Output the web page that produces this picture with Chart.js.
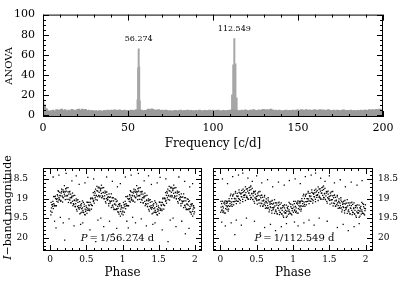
<!DOCTYPE html>
<html>
<head>
<meta charset="utf-8">
<script src="https://cdn.jsdelivr.net/npm/chart.js@4.4.0/dist/chart.umd.min.js"></script>
<style>
  html, body { margin: 0; padding: 0; background: #fff; }
  #wrap { position: relative; width: 399px; height: 288px; }
  canvas { position: absolute; left: 0; top: 0; }
</style>
</head>
<body>
<div id="wrap">
  <canvas id="spec" width="399" height="288"></canvas>
  <canvas id="foldA" width="399" height="288"></canvas>
  <canvas id="foldB" width="399" height="288"></canvas>
</div>
<script>
// ---- periodogram: ANOVA noise, one value per 1 c/d from 0 to 200
const anovaNoise = [
  13, 10, 6.5, 4.5, 4, 4.5, 5, 4, 5.5, 4.8,
  5.2, 5.8, 4.6, 5.5, 4.2, 5, 4.4, 5.6, 4.8, 4.3,
  5.4, 5.8, 5, 6, 5.2, 5.7, 4.5, 5, 4.2, 4.6,
  4, 4.4, 3.8, 4.5, 4.2, 4, 4.6, 4.1, 4.8, 4.4,
  5, 4.6, 5.2, 4.8, 4.3, 5.1, 4.7, 4.5, 5, 4.2,
  4.6, 4.4, 4.8, 4.3, 4.9, 5.2, 4.8, 4.6, 4.8, 4.5,
  4.6, 5, 5.8, 5.2, 6.2, 5.4, 5, 4.8, 5.5, 4.6,
  4.8, 4.4, 5, 4.6, 4.2, 4.5, 4, 4.3, 4.7, 4.1,
  4.5, 4.8, 4.2, 4.6, 4.4, 4.9, 4.3, 4.7, 4.5, 4.2,
  4.6, 4.1, 4.8, 4.4, 4.2, 4.7, 4.3, 4.5, 4.9, 4.4,
  4.8, 4.3, 4.6, 5, 4.4, 4.2, 4.7, 4.5, 4.3, 4.6,
  4.8, 5, 5.2, 5, 4.8, 4.5, 4.3, 4.9, 4.4, 5.2,
  4.6, 4.3, 4.8, 5, 5.4, 4.7, 4.4, 5.1, 4.6, 5.3,
  5.6, 5, 5.4, 4.8, 5.8, 5.2, 4.6, 5, 4.4, 4.8,
  4.5, 4.2, 4.6, 4.9, 4.3, 4.7, 4.4, 4.8, 4.5, 4.9,
  5.2, 4.6, 5.4, 5, 4.8, 5.5, 4.7, 5.1, 4.6, 5,
  5.3, 4.7, 5, 5.5, 4.8, 5.2, 4.6, 4.9, 5.4, 4.7,
  4.5, 4.9, 4.3, 5, 4.6, 4.4, 4.8, 5.1, 4.5, 4.7,
  4.4, 4.8, 4.3, 4.6, 4.2, 4.7, 4.5, 4.9, 4.4, 4.8,
  5, 4.6, 5.3, 4.8, 5.5, 5, 5.6, 5.2, 5.8, 5.4,
  5
];
const peakFreq  = [55.6, 55.95, 56.274, 56.6, 56.95, 111.2, 111.9, 112.549, 113.2, 113.9];
const peakAnova = [15, 47, 66, 48, 14, 20, 50, 76, 51, 17];
const peakLabels = ['56.274', '112.549'];
const peakLabelY = [75.5, 85.5];
const freqTicks  = [0, 50, 100, 150, 200];
const anovaTicks = [0, 20, 40, 60, 80, 100];

// ---- phases of the measurements (same epochs in both foldings)
const phaseGrid = [
  0.005, 0.012, 0.018, 0.024, 0.031, 0.037, 0.043, 0.049, 0.056, 0.062, 0.068, 0.074, 0.081, 0.087, 0.093, 0.098,
  0.104, 0.109, 0.115, 0.121, 0.127, 0.133, 0.139, 0.146, 0.152, 0.158, 0.164, 0.171, 0.177, 0.183, 0.189, 0.196,
  0.202, 0.208, 0.214, 0.221, 0.227, 0.233, 0.239, 0.246, 0.252, 0.258, 0.264, 0.271, 0.277, 0.283, 0.289, 0.296,
  0.302, 0.308, 0.314, 0.321, 0.327, 0.333, 0.339, 0.346, 0.352, 0.358, 0.364, 0.371, 0.377, 0.383, 0.389, 0.396,
  0.402, 0.408, 0.414, 0.421, 0.427, 0.433, 0.439, 0.446, 0.452, 0.458, 0.464, 0.471, 0.477, 0.483, 0.489, 0.496,
  0.502, 0.508, 0.514, 0.521, 0.527, 0.533, 0.539, 0.546, 0.552, 0.558, 0.564, 0.571, 0.577, 0.583, 0.589, 0.596,
  0.602, 0.608, 0.614, 0.621, 0.627, 0.633, 0.639, 0.646, 0.652, 0.658, 0.664, 0.671, 0.677, 0.683, 0.689, 0.696,
  0.702, 0.708, 0.714, 0.721, 0.727, 0.733, 0.739, 0.746, 0.752, 0.758, 0.764, 0.771, 0.777, 0.783, 0.789, 0.796,
  0.802, 0.808, 0.814, 0.821, 0.827, 0.833, 0.839, 0.846, 0.852, 0.858, 0.864, 0.871, 0.877, 0.883, 0.889, 0.896,
  0.902, 0.908, 0.914, 0.921, 0.927, 0.933, 0.939, 0.946, 0.952, 0.958, 0.964, 0.971, 0.977, 0.983, 0.989, 0.996,
  0.009, 0.021, 0.034, 0.046, 0.059, 0.071, 0.084, 0.096,
  0.109, 0.121, 0.134, 0.146, 0.159, 0.171, 0.184, 0.196,
  0.209, 0.221, 0.234, 0.246, 0.259, 0.271, 0.284, 0.296,
  0.309, 0.321, 0.334, 0.346, 0.359, 0.371, 0.384, 0.396,
  0.409, 0.421, 0.434, 0.446, 0.459, 0.471, 0.484, 0.496,
  0.509, 0.521, 0.534, 0.546, 0.559, 0.571, 0.584, 0.596,
  0.609, 0.621, 0.634, 0.646, 0.659, 0.671, 0.684, 0.696,
  0.709, 0.721, 0.734, 0.746, 0.759, 0.771, 0.784, 0.796,
  0.809, 0.821, 0.834, 0.846, 0.859, 0.871, 0.884, 0.896,
  0.909, 0.921, 0.934, 0.946, 0.959, 0.971, 0.984, 0.996
];

// ---- I magnitudes folded with P = 1/56.274 d
const magA = [
  19.32, 19.10, 19.24, 19.35, 19.15, 19.07, 19.26, 19.13, 19.17, 18.95, 19.18, 19.00, 19.19, 19.02, 19.07, 18.90,
  18.93, 19.09, 18.82, 18.98, 19.02, 18.84, 18.93, 19.07, 18.86, 18.76, 18.93, 18.96, 18.78, 18.98, 18.82, 18.67,
  18.94, 18.83, 18.75, 18.93, 18.73, 19.02, 18.93, 18.83, 19.10, 18.89, 18.83, 19.04, 18.98, 18.89, 19.11, 18.96,
  18.94, 19.07, 19.18, 18.93, 19.15, 19.04, 18.92, 19.20, 19.13, 19.06, 19.28, 19.04, 19.20, 19.03, 19.24, 19.18,
  19.27, 19.08, 19.23, 19.37, 19.19, 19.13, 19.35, 19.24, 19.30, 19.10, 19.36, 19.20, 19.41, 19.27, 19.33, 19.19,
  19.23, 19.38, 19.10, 19.25, 19.29, 19.10, 19.18, 19.31, 19.10, 18.99, 19.15, 19.17, 18.99, 19.18, 19.01, 18.85,
  19.05, 18.92, 18.82, 18.98, 18.76, 19.03, 18.92, 18.80, 19.04, 18.81, 18.73, 18.92, 18.84, 18.73, 18.93, 18.76,
  18.74, 18.87, 18.98, 18.73, 18.95, 18.84, 18.72, 19.00, 18.93, 18.86, 19.08, 18.84, 19.00, 18.83, 19.04, 18.98,
  18.95, 19.13, 18.88, 19.06, 19.12, 18.96, 19.07, 19.23, 19.06, 18.98, 19.17, 19.22, 19.06, 19.28, 19.14, 19.01,
  19.28, 19.17, 19.08, 19.26, 19.06, 19.34, 19.25, 19.15, 19.40, 19.19, 19.13, 19.33, 19.27, 19.18, 19.39, 19.24,
  19.42, 19.16, 19.20, 18.95, 19.19, 18.94, 19.18, 19.00,
  18.80, 19.04, 18.92, 19.05, 18.82, 19.09, 18.84, 18.89,
  19.03, 18.81, 18.92, 18.72, 19.02, 18.82, 19.11, 18.98,
  18.86, 19.13, 19.05, 19.21, 19.01, 19.32, 19.10, 19.23,
  19.39, 19.16, 19.26, 19.06, 19.35, 19.14, 19.42, 19.29,
  19.09, 19.30, 19.16, 19.27, 19.01, 19.27, 18.99, 19.07,
  19.12, 18.86, 18.93, 18.69, 18.95, 18.71, 18.96, 18.80,
  18.66, 18.93, 18.85, 19.01, 18.81, 19.12, 18.90, 19.03,
  19.19, 18.97, 19.08, 18.88, 19.18, 18.98, 19.27, 19.14,
  19.02, 19.28, 19.20, 19.35, 19.14, 19.45, 19.22, 19.34
];
const outPhaseA = [
  0.04, 0.12, 0.22, 0.30, 0.36, 0.08, 0.18, 0.33, 0.42, 0.48, 0.55, 0.60, 0.66, 0.74, 0.78,
  0.86, 0.92, 0.97, 0.20, 0.63, 0.87, 0.40, 0.06, 0.52, 0.70, 0.26, 0.45, 0.82, 0.14, 0.93
];
const outMagA = [
  18.45, 18.40, 18.36, 18.55, 18.42, 19.75, 19.62, 19.70, 19.66, 18.60, 19.80, 18.50, 19.55, 19.72, 18.45,
  18.56, 19.76, 18.62, 20.06, 20.10, 19.90, 18.64, 19.58, 18.46, 19.50, 19.52, 19.62, 19.58, 19.48, 18.70
];

// ---- I magnitudes folded with P = 1/112.549 d
const magB = [
  19.35, 19.22, 19.13, 19.29, 19.07, 19.35, 19.24, 19.12, 19.37, 19.14, 19.06, 19.26, 19.18, 19.07, 19.28, 19.11,
  19.07, 19.18, 19.27, 19.00, 19.20, 19.07, 18.93, 19.19, 19.09, 19.00, 19.20, 18.94, 19.08, 18.89, 19.08, 19.00,
  19.07, 18.86, 19.01, 19.13, 18.93, 18.87, 19.07, 18.94, 19.00, 18.78, 19.02, 18.86, 19.05, 18.89, 18.95, 18.79,
  18.85, 19.02, 18.76, 18.92, 18.97, 18.80, 18.90, 19.05, 18.85, 18.76, 18.94, 18.98, 18.81, 19.01, 18.86, 18.72,
  18.79, 18.92, 19.02, 18.77, 18.98, 18.87, 18.74, 19.02, 18.93, 18.86, 19.07, 18.83, 18.98, 18.81, 19.01, 18.95,
  19.05, 18.94, 18.86, 19.04, 18.83, 19.12, 19.03, 18.93, 19.19, 18.98, 18.92, 19.13, 19.06, 18.97, 19.19, 19.04,
  19.15, 18.96, 19.11, 19.25, 19.07, 19.01, 19.23, 19.12, 19.18, 18.98, 19.24, 19.08, 19.29, 19.15, 19.21, 19.07,
  19.13, 19.31, 19.05, 19.23, 19.28, 19.12, 19.22, 19.38, 19.19, 19.11, 19.29, 19.34, 19.17, 19.39, 19.24, 19.11,
  19.18, 19.30, 19.41, 19.15, 19.36, 19.24, 19.11, 19.39, 19.30, 19.23, 19.44, 19.19, 19.34, 19.16, 19.37, 19.30,
  19.37, 19.17, 19.32, 19.45, 19.26, 19.20, 19.40, 19.29, 19.34, 19.13, 19.38, 19.21, 19.40, 19.25, 19.31, 19.16,
  19.07, 19.31, 19.20, 19.32, 19.09, 19.37, 19.12, 19.21,
  19.32, 19.06, 19.13, 18.89, 19.15, 18.91, 19.16, 19.00,
  18.82, 19.06, 18.95, 19.07, 18.84, 19.12, 18.87, 18.96,
  19.08, 18.83, 18.92, 18.70, 18.97, 18.75, 19.02, 18.86,
  18.71, 18.97, 18.88, 19.03, 18.82, 19.12, 18.89, 19.01,
  19.14, 18.92, 19.03, 18.82, 19.12, 18.91, 19.20, 19.06,
  18.92, 19.18, 19.09, 19.25, 19.04, 19.34, 19.11, 19.23,
  19.37, 19.14, 19.24, 19.03, 19.32, 19.11, 19.39, 19.25,
  19.09, 19.35, 19.26, 19.40, 19.18, 19.48, 19.24, 19.36,
  19.48, 19.23, 19.32, 19.10, 19.38, 19.15, 19.42, 19.26
];
const outPhaseB = [
  0.03, 0.10, 0.17, 0.25, 0.31, 0.38, 0.44, 0.50, 0.57, 0.65, 0.72, 0.80, 0.88, 0.95, 0.07,
  0.15, 0.22, 0.29, 0.36, 0.47, 0.61, 0.69, 0.76, 0.84, 0.91, 0.20, 0.55, 0.02, 0.42
];
const outMagB = [
  18.50, 18.62, 18.44, 18.40, 18.35, 18.48, 18.56, 18.42, 18.60, 18.52, 18.70, 18.58, 18.66, 18.54, 19.70,
  19.62, 19.55, 19.68, 19.50, 19.58, 19.74, 19.66, 19.82, 19.72, 19.64, 19.92, 19.88, 19.60, 18.68
];
const phaseTicks = [0, 0.5, 1, 1.5, 2];
const magTicks = [18.5, 19, 19.5, 20];

const serif = '"DejaVu Serif", "Liberation Serif", serif';
Chart.defaults.color = '#000';
Chart.defaults.font.family = serif;

// draws text made of roman / italic pieces, centred on (cx, cy)
function drawParts(ctx, parts, size, cx, cy) {
  let total = 0;
  parts.forEach(p => {
    ctx.font = (p.it ? 'italic ' : '') + size + 'px ' + serif;
    p.w = ctx.measureText(p.t).width;
    total += p.w;
  });
  let x = cx - total / 2;
  ctx.textAlign = 'left';
  ctx.textBaseline = 'middle';
  parts.forEach(p => {
    ctx.font = (p.it ? 'italic ' : '') + size + 'px ' + serif;
    ctx.fillText(p.t, x, cy);
    x += p.w;
  });
}

function tickRun(from, to, step, major) {
  const out = [];
  const n = Math.round((to - from) / step);
  for (let i = 0; i <= n; i++) {
    const v = from + i * step;
    const r = v / major;
    out.push({ v: v, major: Math.abs(r - Math.round(r)) < 1e-6 });
  }
  return out;
}

// frame, inward ticks on all four sides, and text notes
const frameTicks = {
  id: 'frameTicks',
  afterDraw(chart, args, opts) {
    const { ctx, chartArea: a, scales: { x, y } } = chart;
    ctx.save();
    ctx.strokeStyle = '#000';
    ctx.lineWidth = 1;
    ctx.strokeRect(a.left + 0.5, a.top + 0.5, a.right - a.left - 1, a.bottom - a.top - 1);
    ctx.beginPath();
    tickRun(opts.x[0], opts.x[1], opts.x[2], opts.x[3]).forEach(t => {
      const px = Math.round(x.getPixelForValue(t.v)) + 0.5;
      const len = t.major ? 6 : 3;
      ctx.moveTo(px, a.bottom); ctx.lineTo(px, a.bottom - len);
      ctx.moveTo(px, a.top); ctx.lineTo(px, a.top + len);
    });
    tickRun(opts.y[0], opts.y[1], opts.y[2], opts.y[3]).forEach(t => {
      const py = Math.round(y.getPixelForValue(t.v)) + 0.5;
      const len = t.major ? 6 : 3;
      ctx.moveTo(a.left, py); ctx.lineTo(a.left + len, py);
      ctx.moveTo(a.right, py); ctx.lineTo(a.right - len, py);
    });
    ctx.stroke();
    ctx.fillStyle = '#000';
    (opts.notes || []).forEach(n => {
      drawParts(ctx, n.parts, n.size, x.getPixelForValue(n.x), y.getPixelForValue(n.y));
    });
    if (opts.yTitle) {
      ctx.translate(opts.yTitle.px, (a.top + a.bottom) / 2 - 2);
      ctx.rotate(-Math.PI / 2);
      drawParts(ctx, opts.yTitle.parts, opts.yTitle.size, 0, 0);
    }
    ctx.restore();
  }
};

function fixedTicks(values) {
  return scale => { scale.ticks = values.map(v => ({ value: v })); };
}
const plainLabel = v => String(v);

// ---------- top panel: periodogram
const noisePoints = anovaNoise.map((v, i) => ({ x: i, y: v }));
const peakPoints = peakFreq.map((f, i) => ({ x: f, y: peakAnova[i] }));

new Chart(document.getElementById('spec'), {
  type: 'bar',
  data: {
    datasets: [
      { data: noisePoints, backgroundColor: '#9a9a9a', barThickness: 2, grouped: false, base: -2 },
      { data: peakPoints, backgroundColor: '#a6a6a6', barThickness: 1.3, grouped: false, base: -2 }
    ]
  },
  options: {
    responsive: false,
    animation: false,
    events: [],
    layout: { padding: { left: 0, right: 16, top: 12, bottom: 136 } },
    plugins: {
      legend: { display: false },
      tooltip: { enabled: false },
      frameTicks: {
        x: [0, 200, 10, 50],
        y: [0, 100, 5, 20],
        notes: [
          { x: peakFreq[2], y: peakLabelY[0], size: 8, parts: [{ t: peakLabels[0] }] },
          { x: peakFreq[7], y: peakLabelY[1], size: 8, parts: [{ t: peakLabels[1] }] }
        ]
      }
    },
    scales: {
      x: {
        type: 'linear', min: 0, max: 200, offset: false,
        grid: { display: false, drawTicks: false }, border: { display: false },
        afterBuildTicks: fixedTicks(freqTicks),
        afterFit: s => { s.height = 35; },
        ticks: { padding: 5, maxRotation: 0, font: { size: 11 }, callback: plainLabel },
        title: { display: true, text: 'Frequency [c/d]', font: { size: 12 }, padding: { top: 0, bottom: 1 } }
      },
      y: {
        min: -2, max: 100,
        grid: { display: false, drawTicks: false }, border: { display: false },
        afterBuildTicks: fixedTicks(anovaTicks),
        afterFit: s => { s.width = 43; },
        ticks: { padding: 8, font: { size: 11 }, callback: plainLabel },
        title: { display: true, text: 'ANOVA', font: { size: 10 }, padding: { top: 3, bottom: 0 } }
      }
    }
  },
  plugins: [frameTicks]
});

// ---------- bottom panels: folded light curves (two cycles shown)
function foldedChart(id, mag, outPhase, outMag, side, pad, note) {
  const phase = phaseGrid.concat(outPhase);
  const m = mag.concat(outMag);
  const pts = phase.map((p, i) => ({ x: p, y: m[i] }))
    .concat(phase.map((p, i) => ({ x: p + 1, y: m[i] })));
  return new Chart(document.getElementById(id), {
    type: 'scatter',
    data: {
      datasets: [{ data: pts, backgroundColor: '#000', borderWidth: 0, pointRadius: 0.9, pointStyle: 'rect' }]
    },
    options: {
      responsive: false,
      animation: false,
      events: [],
      layout: { padding: pad },
      plugins: {
        legend: { display: false },
        tooltip: { enabled: false },
        frameTicks: {
          x: [0, 2, 0.1, 0.5],
          y: [18.3, 20.3, 0.1, 0.5],
          notes: [note],
          yTitle: side === 'left'
            ? { px: 8, size: 11, parts: [{ t: 'I', it: true }, { t: '\u2212band magnitude' }] }
            : null
        }
      },
      scales: {
        x: {
          type: 'linear', min: -0.1, max: 2.1,
          grid: { display: false, drawTicks: false }, border: { display: false },
          afterBuildTicks: fixedTicks(phaseTicks),
          afterFit: s => { s.height = 30; },
          ticks: { padding: 3, maxRotation: 0, font: { size: 9 }, callback: plainLabel },
          title: { display: true, text: 'Phase', font: { size: 12 }, padding: { top: 0, bottom: 0.5 } }
        },
        y: {
          position: side, reverse: true, min: 18.22, max: 20.34,
          grid: { display: false, drawTicks: false }, border: { display: false },
          afterBuildTicks: fixedTicks(magTicks),
          afterFit: s => { s.width = side === 'left' ? 43 : 26; },
          ticks: { padding: side === 'left' ? 15 : 5, font: { size: 9 }, callback: plainLabel }
        }
      }
    },
    plugins: [frameTicks]
  });
}

foldedChart('foldA', magA, outPhaseA, outMagA, 'left',
  { left: 0, right: 197, top: 168, bottom: 7 },
  { x: 0.93, y: 20.03, size: 10, parts: [{ t: 'P', it: true }, { t: '\u2009=\u20091/56.274 d' }] });

foldedChart('foldB', magB, outPhaseB, outMagB, 'right',
  { left: 213, right: 0, top: 168, bottom: 7 },
  { x: 1.02, y: 20.02, size: 10, parts: [{ t: 'P', it: true }, { t: '\u2009=\u20091/112.549 d' }] });
</script>
</body>
</html>
